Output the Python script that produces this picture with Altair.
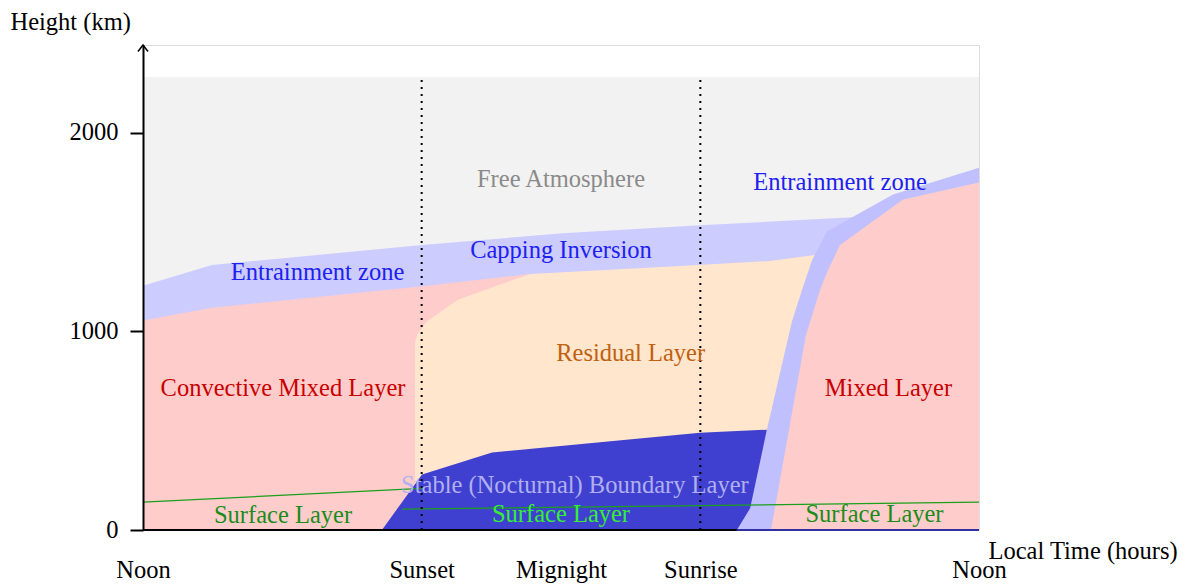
import altair as alt
import pandas as pd

# x: hours after local noon (0 = noon, 24 = next noon); y: height on the km axis
tick_hours = [0, 8, 12, 16, 24]
tick_names = ["Noon", "Sunset", "Mignight", "Sunrise", "Noon"]
y_ticks = [0, 1000, 2000]

X_MAX = 24
Y_MAX = 2443          # top of the arrowed height axis
FREE_TOP = 2282       # top of the grey free-atmosphere box
sunset_h = 8
sunrise_h = 16

# capping inversion / entrainment zone (day and night), upper edge
cap_h = [0, 1.98, 8.01, 12.06, 15.99, 20.38]
cap_km = [1230, 1335, 1435, 1495, 1535, 1575]

# convective mixed layer (afternoon), upper edge
day_mixed_h = [0, 1.98, 7.89, 11.11]
day_mixed_km = [1055, 1120, 1225, 1290]

# residual layer, upper edge
residual_h = [7.81, 7.87, 8.15, 9.04, 11.11, 15.42, 18.0, 19.29]
residual_km = [940, 985, 1050, 1160, 1290, 1330, 1355, 1385]

# stable (nocturnal) boundary layer, upper edge
stable_h = [6.86, 8.01, 10.02, 15.99, 17.91]
stable_km = [0, 280, 390, 490, 505]

# morning entrainment zone, outer edge
morning_ez_h = [17.05, 17.43, 17.91, 18.63, 18.92, 19.21, 19.64, 21.53, 24]
morning_ez_km = [0, 110, 505, 1050, 1210, 1360, 1505, 1690, 1825]

# morning mixed layer, upper edge
morning_mixed_h = [18.03, 19.03, 19.44, 19.64, 20.01, 21.82, 24]
morning_mixed_km = [0, 980, 1210, 1300, 1435, 1665, 1750]

# surface layer tops (green lines)
surface_day_h = [0, 8.0]
surface_day_km = [140, 210]
surface_night_h = [7.44, 24]
surface_night_km = [105, 140]

# region labels
labels = ["Free Atmosphere", "Entrainment zone", "Capping Inversion", "Entrainment zone",
          "Residual Layer", "Convective Mixed Layer", "Mixed Layer",
          "Stable (Nocturnal) Boundary Layer", "Surface Layer", "Surface Layer", "Surface Layer"]
label_h = [12.0, 5.01, 12.0, 20.01, 14.0, 4.02, 21.4, 12.4, 4.02, 12.0, 21.0]
label_km = [1765, 1295, 1405, 1750, 885, 710, 710, 220, 72, 75, 75]
label_colors = ["#8a8a8a", "#2020f0", "#2020f0", "#2020f0", "#c06010", "#c80000", "#c80000",
                "#b0b0f0", "#1a8c1a", "#33f033", "#1a8c1a"]

FONT = "Liberation Serif"
FS = 24.5

xs = alt.Scale(domain=[0, X_MAX], nice=False, zero=False)
ys = alt.Scale(domain=[0, Y_MAX], nice=False)

label_expr = "[" + ",".join("'" + n + "'" for n in tick_names) + "][indexof([" + \
    ",".join(str(v) for v in tick_hours) + "], datum.value)]"

x_axis = alt.Axis(values=tick_hours, labelExpr=label_expr, title="Local Time (hours)",
                  domain=False, ticks=False, tickSize=0, grid=False,
                  labelFont=FONT, labelFontSize=FS, labelColor="black",
                  labelBaseline="alphabetic", labelPadding=47, labelFlush=False,
                  labelOverlap=False,
                  titleFont=FONT, titleFontSize=FS, titleFontWeight="normal",
                  titleColor="black", titleAngle=0, titleAlign="left",
                  titleBaseline="middle", titleX=845, titleY=21)
y_axis = alt.Axis(values=y_ticks, format="d", title="Height (km)", grid=False, zindex=1,
                  domainColor="black", domainWidth=2, tickColor="black", tickWidth=2,
                  tickSize=13, labelFont=FONT, labelFontSize=FS, labelColor="black",
                  labelPadding=12, labelFlush=False, labelBaseline="middle",
                  titleFont=FONT, titleFontSize=FS, titleFontWeight="normal",
                  titleColor="black", titleAngle=0, titleAlign="left",
                  titleBaseline="middle", titleX=-133, titleY=-23)


def X(field="h"):
    return alt.X(field + ":Q", scale=xs, axis=x_axis)


def Y(field="km"):
    return alt.Y(field + ":Q", scale=ys, axis=y_axis)


def area(hs, kms, color):
    df = pd.DataFrame({"h": hs, "km": kms})
    return alt.Chart(df).mark_area(color=color, opacity=1, interpolate="linear").encode(
        x=X(), y=Y())


free = alt.Chart(pd.DataFrame({"h": [0], "h2": [X_MAX], "km": [0], "km2": [FREE_TOP]})) \
    .mark_rect(color="#f2f2f2").encode(x=X(), x2="h2", y=Y(), y2="km2")

cap = area(cap_h, cap_km, "#ccccff")
day_mixed = area(day_mixed_h, day_mixed_km, "#ffcccc")
residual = area(residual_h, residual_km, "#ffe6cc")
stable = area(stable_h, stable_km, "#4040d0")
morning_ez = area(morning_ez_h, morning_ez_km, "#c0c0ff")
morning_mixed = area(morning_mixed_h, morning_mixed_km, "#ffcccc")


def line(hs, kms, color):
    df = pd.DataFrame({"h": hs, "km": kms})
    return alt.Chart(df).mark_line(color=color, strokeWidth=1.2).encode(x=X(), y=Y())


surf1 = line(surface_day_h, surface_day_km, "#1aa01a")
surf2 = line(surface_night_h, surface_night_km, "#1aa01a")

base = alt.Chart(pd.DataFrame({"h": [0, sunrise_h + 1.05], "h2": [sunrise_h + 1.05, X_MAX],
                               "km": [0, 0], "c": ["black", "#3030a0"]})) \
    .mark_rule(strokeWidth=2).encode(x=X(), x2="h2", y=Y(), color=alt.Color("c:N", scale=None))

dots = alt.Chart(pd.DataFrame({"h": [sunset_h, sunrise_h], "km": [0, 0],
                               "km2": [FREE_TOP, FREE_TOP]})) \
    .mark_rule(color="black", strokeWidth=2, strokeDash=[2, 5]).encode(x=X(), y=Y(), y2="km2")

arrow = alt.Chart(pd.DataFrame({"h": [0], "km": [Y_MAX]})).mark_point(
    shape="M -1 1.3 L 0 0 L 1 1.3", size=100, filled=False, color="black",
    strokeWidth=1.5, opacity=1).encode(x=X(), y=Y())

texts = alt.Chart(pd.DataFrame({"t": labels, "h": label_h, "km": label_km, "c": label_colors})) \
    .mark_text(font=FONT, fontSize=FS, align="center", baseline="middle").encode(
        x=X(), y=Y(), text="t:N", color=alt.Color("c:N", scale=None))

chart = alt.layer(free, cap, day_mixed, residual, stable, morning_ez, morning_mixed,
                  surf1, surf2, base, dots, arrow, texts).properties(
    width=836, height=485,
    autosize=alt.AutoSizeParams(type="none"),
    padding={"left": 135, "top": 37, "right": 200, "bottom": 60},
    background="white",
).configure_view(strokeWidth=0).configure(font=FONT)

chart.save("out.html", embed_options={"renderer": "svg", "actions": False})
